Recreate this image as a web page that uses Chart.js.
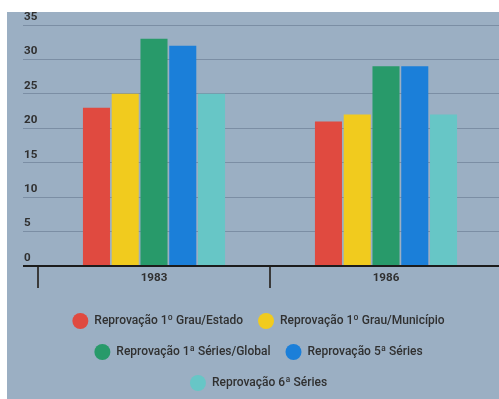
<!DOCTYPE html>
<html>
<head>
<meta charset="utf-8">
<script src="https://cdn.jsdelivr.net/npm/chart.js@4/dist/chart.umd.min.js"></script>
<style>
  html, body { margin: 0; padding: 0; background: #ffffff; overflow: hidden; width: 499px; height: 399px; }
  #panel { position: absolute; left: 7px; top: 12px; width: 495px; height: 389px; background: #9bafc3; }
  #chart { display: block; }
</style>
</head>
<body>
<div id="panel"><canvas id="chart" width="495" height="389"></canvas></div>
<script>
// Anos avaliados
const categories = ['1983', '1986'];

// Taxas de reprovação (%) por série
const estado = [23, 21];
const municipio = [25, 22];
const seriesGlobal = [33, 29];
const quintaSerie = [32, 29];
const sextaSerie = [25, 22];

// Escala do eixo vertical
const yTicks = [0, 5, 10, 15, 20, 25, 30, 35];

const seriesNames = [
  'Reprovação 1º Grau/Estado',
  'Reprovação 1º Grau/Município',
  'Reprovação 1ª Séries/Global',
  'Reprovação 5ª Séries',
  'Reprovação 6ª Séries'
];
const seriesColors = ['#e04a40', '#f1cb1e', '#289a6a', '#1b7fd9', '#67c6c6'];
const seriesValues = [estado, municipio, seriesGlobal, quintaSerie, sextaSerie];

const datasets = seriesValues.map((values, i) => ({
  label: seriesNames[i],
  data: values,
  backgroundColor: seriesColors[i],
  borderWidth: 0,
  categoryPercentage: 0.62,
  barPercentage: 0.94
}));

const textColor = '#303030';

new Chart(document.getElementById('chart'), {
  type: 'bar',
  data: { labels: categories, datasets },
  options: {
    responsive: false,
    animation: false,
    layout: { padding: { top: 13, left: 8, right: 0, bottom: 0 } },
    plugins: {
      tooltip: { enabled: false },
      legend: {
        position: 'bottom',
        labels: {
          boxWidth: 16,
          boxHeight: 16,
          useBorderRadius: true,
          borderRadius: 8,
          padding: 15,
          color: textColor,
          font: { family: 'Roboto', size: 12, weight: '500' }
        }
      }
    },
    scales: {
      x: {
        offset: true,
        border: { display: false },
        grid: {
          offset: true,
          drawOnChartArea: false,
          drawTicks: true,
          tickLength: 22,
          color: '#3a3a3a',
          lineWidth: 2
        },
        ticks: {
          padding: -17,
          color: textColor,
          font: { family: 'Roboto', size: 11.6, weight: 'bold' }
        },
        afterFit(scale) { scale.height = 32; }
      },
      y: {
        min: yTicks[0],
        max: yTicks[yTicks.length - 1],
        border: { display: false },
        grid: {
          drawTicks: true,
          tickLength: 15,
          color: (c) => (c.tick && c.tick.value === 0 ? '#1c1c1c' : 'rgba(70, 90, 112, 0.38)'),
          lineWidth: (c) => (c.tick && c.tick.value === 0 ? 2 : 1)
        },
        afterBuildTicks(scale) { scale.ticks = yTicks.map(v => ({ value: v })); },
        ticks: {
          mirror: true,
          padding: -14,
          labelOffset: -8,
          color: textColor,
          font: { family: 'Roboto', size: 11.6, weight: 'bold' }
        },
        afterFit(scale) { scale.width = 23; }
      }
    }
  }
});
</script>
</body>
</html>
